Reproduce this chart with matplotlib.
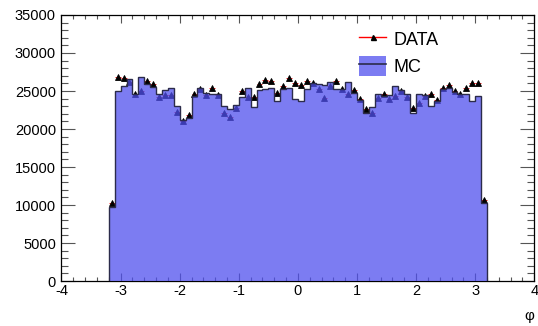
import numpy as np
import matplotlib
matplotlib.use("Agg")
import matplotlib.pyplot as plt
from matplotlib.lines import Line2D
from matplotlib.patches import Patch
from matplotlib.legend_handler import HandlerTuple
from matplotlib.ticker import MultipleLocator

plt.rcParams["font.family"] = ["Liberation Sans", "DejaVu Sans"]

# Azimuthal angle binning: 64 bins of 0.1 rad
phi_lo, phi_hi, n_bins = -3.2, 3.2, 64

# Simulated (MC) histogram contents per bin
mc_counts = [
    9800, 24980, 25640, 26520, 24670, 26780, 25900, 25550,
    24670, 25110, 25460, 23000, 21250, 21510, 24320, 25460,
    24780, 24670, 24540, 23050, 22610, 23140, 24190, 25460,
    22830, 25110, 25200, 25380, 23750, 25200, 25330, 23970,
    23700, 25200, 25990, 25900, 25730, 26250, 25200, 25200,
    26250, 24760, 23880, 22170, 22910, 24670, 24320, 24500,
    25640, 25110, 24600, 22040, 24540, 24450, 23090, 23620,
    25240, 25460, 24890, 24540, 24670, 23620, 24320, 10260,
]

# Measured data counts per bin
data_counts = [
    10300, 26870, 26650, 26210, 24550, 24980, 26260, 25860,
    24230, 24410, 24410, 22210, 21110, 21860, 24670, 25240,
    24500, 25330, 24410, 22040, 21600, 22780, 24980, 24230,
    24230, 25860, 26390, 26300, 24760, 25680, 26650, 26080,
    25730, 26340, 26080, 25290, 24060, 25640, 26340, 25300,
    24630, 25160, 24000, 22570, 22120, 24100, 24590, 23970,
    24370, 24980, 24230, 22740, 23440, 24320, 24590, 23790,
    25375, 25730, 25020, 24670, 25420, 26080, 26080, 10650,
]

x_ticks = [-4, -3, -2, -1, 0, 1, 2, 3, 4]
y_ticks = [0, 5000, 10000, 15000, 20000, 25000, 30000, 35000]

edges = np.linspace(phi_lo, phi_hi, n_bins + 1)
centers = 0.5 * (edges[:-1] + edges[1:])
half_w = 0.5 * (edges[1] - edges[0])
mc = np.asarray(mc_counts, dtype=float)
data = np.asarray(data_counts, dtype=float)

fig = plt.figure(figsize=(5.38, 3.26), dpi=100)
ax = fig.add_axes([0.1143, 0.138, 0.8788, 0.816])

fill_color = (80 / 255, 80 / 255, 238 / 255)
line_color = "#2b2b4a"

# data points with error bars
ax.errorbar(centers, data, xerr=half_w, yerr=np.sqrt(data), fmt="^",
            color="red", mfc="black", mec="black", ms=3.8, mew=0.6,
            elinewidth=0.6, capsize=0, zorder=2)

# MC histogram: translucent fill over the markers, then its outline
ax.stairs(mc, edges, fill=True, color=fill_color, alpha=0.75,
          linewidth=0, zorder=3)
ax.stairs(mc, edges, baseline=0, color=line_color, linewidth=1.0, zorder=4)

ax.set_xlim(-4, 4)
ax.set_ylim(0, 35000)
ax.set_xticks(x_ticks)
ax.set_xticklabels([str(t) for t in x_ticks])
ax.set_yticks(y_ticks)
ax.set_yticklabels([str(t) for t in y_ticks])
ax.xaxis.set_minor_locator(MultipleLocator(0.2))
ax.yaxis.set_minor_locator(MultipleLocator(1000))

ax.tick_params(which="both", direction="in", top=True, right=True,
               width=0.8, color="#555555", labelsize=10.5)
ax.xaxis.set_tick_params(which="major", length=6, pad=2)
ax.xaxis.set_tick_params(which="minor", length=3)
ax.yaxis.set_tick_params(which="major", length=10, pad=4)
ax.yaxis.set_tick_params(which="minor", length=5)

for sp in ax.spines.values():
    sp.set_linewidth(0.9)
    sp.set_color("black")

ax.set_xlabel("φ", loc="right", fontsize=11, labelpad=8)

h_data = Line2D([], [], color="red", linewidth=1.0, marker="^",
                mfc="black", mec="black", ms=3.6)
h_mc = (Patch(facecolor=fill_color, alpha=0.75, edgecolor="none"),
        Line2D([], [], color=line_color, linewidth=1.2))
ax.legend([h_data, h_mc], ["DATA", "MC"],
          handler_map={tuple: HandlerTuple(ndivide=1)},
          loc="upper left", bbox_to_anchor=(359 / 538, 1 - 29 / 326),
          bbox_transform=fig.transFigure, frameon=False,
          fontsize=13, handlelength=1.5, handleheight=1.3,
          handletextpad=0.4, labelspacing=0.4, borderpad=0,
          borderaxespad=0)

fig.savefig("out.png", dpi=100)
